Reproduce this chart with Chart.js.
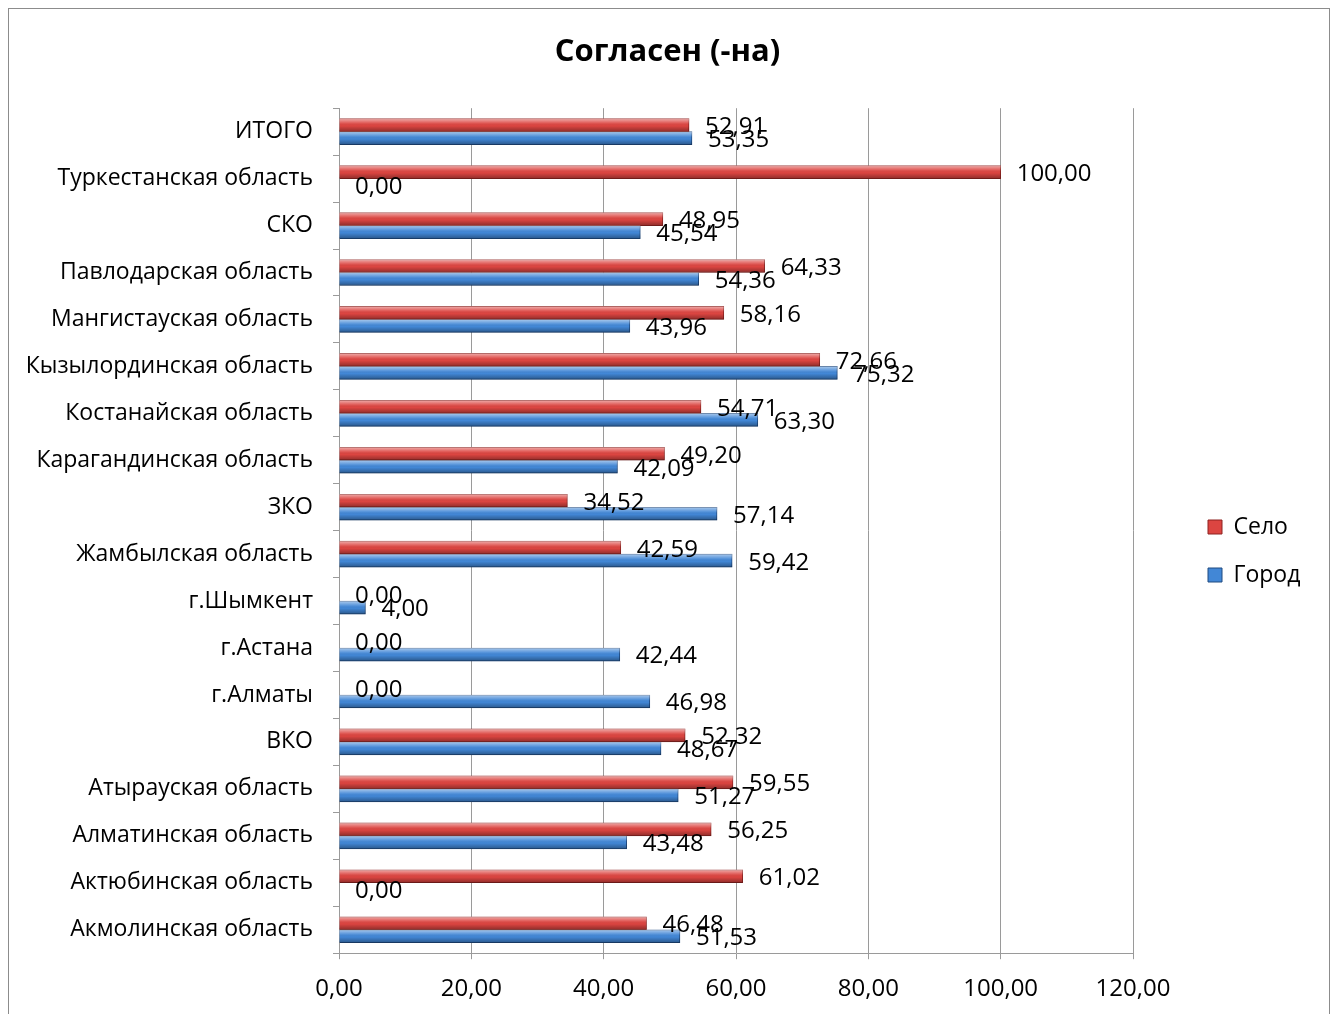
<!DOCTYPE html>
<html>
<head>
<meta charset="utf-8">
<script src="https://cdn.jsdelivr.net/npm/chart.js@4.4.1/dist/chart.umd.min.js"></script>
<style>
  html, body { margin: 0; padding: 0; background: #fff; }
  #canvas-container { width: 1335px; height: 1014px; position: relative; }
</style>
</head>
<body>
<div id="canvas-container"><canvas id="agreeChart"></canvas></div>
<script>
// Categories, top to bottom
const regions = [
  "ИТОГО",
  "Туркестанская область",
  "СКО",
  "Павлодарская область",
  "Мангистауская область",
  "Кызылординская область",
  "Костанайская область",
  "Карагандинская область",
  "ЗКО",
  "Жамбылская область",
  "г.Шымкент",
  "г.Астана",
  "г.Алматы",
  "ВКО",
  "Атырауская область",
  "Алматинская область",
  "Актюбинская область",
  "Акмолинская область",
];

// Values, same order
const seloValues = [52.91, 100.00, 48.95, 64.33, 58.16, 72.66, 54.71, 49.20, 34.52, 42.59, 0.00, 0.00, 0.00, 52.32, 59.55, 56.25, 61.02, 46.48];
const gorodValues = [53.35, 0.00, 45.54, 54.36, 43.96, 75.32, 63.30, 42.09, 57.14, 59.42, 4.00, 42.44, 46.98, 48.67, 51.27, 43.48, 0.00, 51.53];

// x axis
const xTicks = [0, 20, 40, 60, 80, 100, 120];

const FONT = "'Open Sans', 'Noto Sans', sans-serif";
const fmt = v => v.toFixed(2).replace(".", ",");

// outer frame
const framePlugin = {
  id: "frame",
  beforeDraw(chart) {
    const c = chart.ctx;
    c.save();
    c.fillStyle = "#fff";
    c.fillRect(0, 0, chart.width, chart.height);
    c.strokeStyle = "#8c8c8c";
    c.lineWidth = 1;
    c.strokeRect(8.5, 8.5, 1321, 1010);
    c.restore();
  },
};

// make the legend box fixed width and push its items to the right
const legendPlacePlugin = {
  id: "legendPlace",
  beforeLayout(chart) {
    const lg = chart.legend;
    if (lg && !lg._patched) {
      const fit = lg.fit.bind(lg);
      lg.fit = function () { fit(); this.width = 202; };
      lg._patched = true;
    }
  },
  afterLayout(chart) {
    const lg = chart.legend;
    if (lg) {
      lg.left = 1183;
      lg.top += 41;
      lg.bottom += 41;
    }
  },
};

// 3D-ish shading on bars + value labels
const barLabelPlugin = {
  id: "barLabels",
  afterDatasetsDraw(chart) {
    const c = chart.ctx;
    c.save();
    chart.data.datasets.forEach((ds, di) => {
      const meta = chart.getDatasetMeta(di);
      meta.data.forEach((bar, i) => {
        const p = bar.getProps(["x", "y", "base", "height"], true);
        const top = p.y - p.height / 2;
        const w = p.x - p.base;
        if (w > 1) {
          const g = c.createLinearGradient(0, top, 0, top + p.height);
          g.addColorStop(0, "rgba(255,255,255,0.55)");
          g.addColorStop(0.35, "rgba(255,255,255,0.1)");
          g.addColorStop(0.55, "rgba(0,0,0,0)");
          g.addColorStop(1, "rgba(0,0,0,0.35)");
          c.fillStyle = g;
          c.fillRect(p.base, top, w, p.height);
        }
      });
    });
    c.fillStyle = "#000";
    c.font = "24px " + FONT;
    c.textAlign = "left";
    c.textBaseline = "middle";
    chart.data.datasets.forEach((ds, di) => {
      const meta = chart.getDatasetMeta(di);
      meta.data.forEach((bar, i) => {
        const p = bar.getProps(["x", "y"], true);
        c.fillText(fmt(ds.data[i]), p.x + 16, p.y + 2);
      });
    });
    c.restore();
  },
};

const ctx = document.getElementById("agreeChart").getContext("2d");

const agreeChart = new Chart(ctx, {
  type: "bar",
  data: {
    labels: regions,
    datasets: [
      {
        label: "Село",
        data: seloValues,
        backgroundColor: "#dc4541",
        borderColor: "#8e2320",
        borderWidth: 1,
        barThickness: 13,
      },
      {
        label: "Город",
        data: gorodValues,
        backgroundColor: "#4287d6",
        borderColor: "#1f4a80",
        borderWidth: 1,
        barThickness: 13,
      },
    ],
  },
  options: {
    indexAxis: "y",
    responsive: true,
    maintainAspectRatio: false,
    animation: false,
    layout: { padding: { top: 0, right: 0, bottom: -6, left: 0 } },
    plugins: {
      title: {
        display: true,
        text: "Согласен (-на)",
        color: "#000",
        font: { family: FONT, size: 31, weight: "bold" },
        padding: { top: 34, bottom: 37 },
      },
      legend: {
        position: "right",
        labels: {
          color: "#000",
          boxWidth: 14,
          boxHeight: 14,
          padding: 25,
          font: { family: FONT, size: 23 },
        },
      },
      tooltip: { enabled: false },
    },
    scales: {
      x: {
        min: 0,
        max: 120,
        afterBuildTicks: s => { s.ticks = xTicks.map(v => ({ value: v })); },
        grid: { color: "#9a9a9a", tickLength: 6 },
        border: { color: "#9a9a9a" },
        ticks: {
          color: "#000",
          padding: 16,
          font: { family: FONT, size: 24 },
          callback: v => fmt(v),
        },
      },
      y: {
        afterFit: s => { s.width = 339; },
        grid: { drawOnChartArea: false, color: "#9a9a9a", tickLength: 6 },
        border: { color: "#9a9a9a" },
        ticks: {
          color: "#000",
          padding: 20,
          font: { family: FONT, size: 23 },
        },
      },
    },
  },
  plugins: [framePlugin, legendPlacePlugin, barLabelPlugin],
});
</script>
</body>
</html>
